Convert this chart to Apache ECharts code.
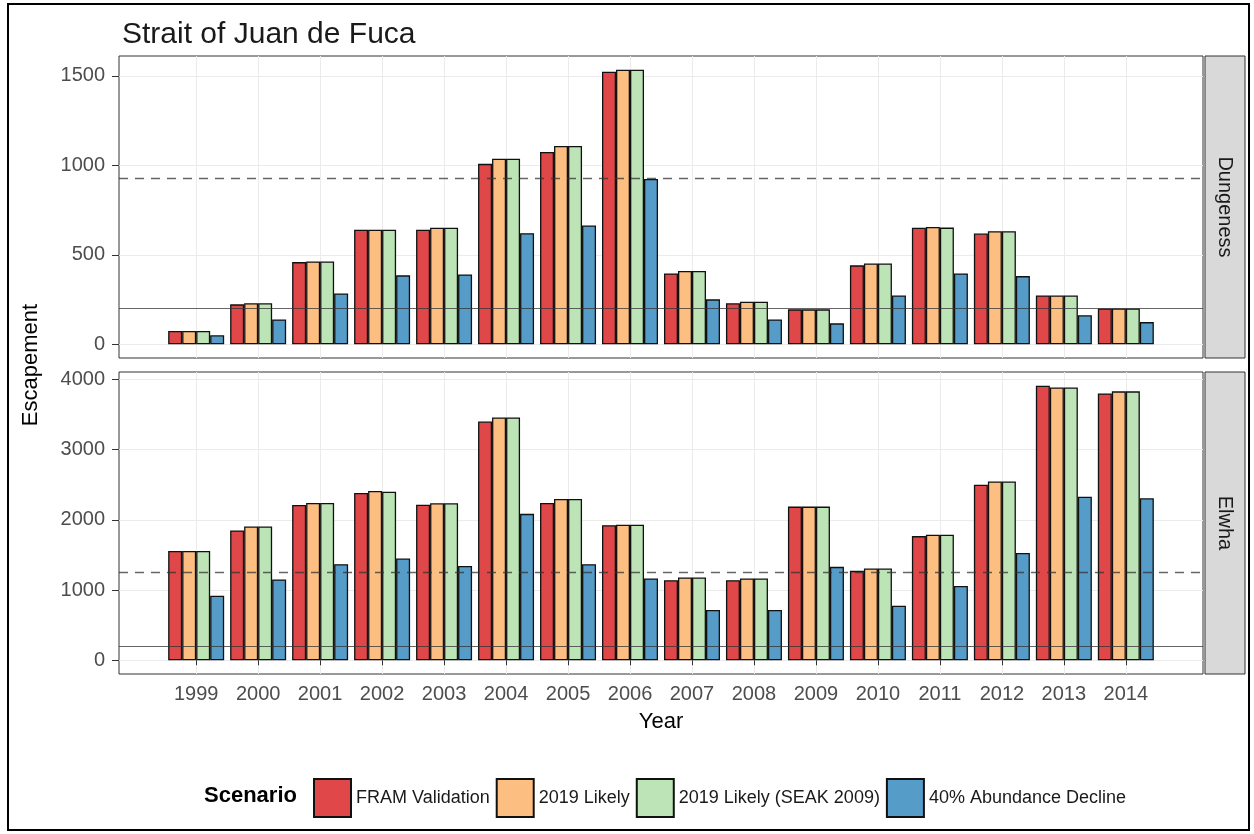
<!DOCTYPE html>
<html><head><meta charset="utf-8">
<script src="https://cdn.jsdelivr.net/npm/echarts@6/dist/echarts.min.js"></script>
<style>html,body{margin:0;padding:0;background:#fff}#c{width:1254px;height:834px}</style>
</head><body><div id="c"></div>
<script>
// ---- data ----
const years = [1999,2000,2001,2002,2003,2004,2005,2006,2007,2008,2009,2010,2011,2012,2013,2014];
const scenarios = ['FRAM Validation','2019 Likely','2019 Likely (SEAK 2009)','40% Abundance Decline'];
const panels = ['Dungeness','Elwha'];
const dungFram   = [74, 223, 459, 640, 640, 1008, 1075, 1523, 396, 229, 195, 441, 651, 619, 273, 200];
const dungLikely = [74, 229, 463, 640, 651, 1037, 1108, 1534, 409, 238, 195, 452, 655, 632, 273, 200];
const dungSeak   = [74, 229, 463, 640, 651, 1037, 1108, 1534, 409, 238, 195, 452, 652, 632, 273, 200];
const dungDecl   = [50, 139, 284, 385, 390, 621, 664, 924, 251, 139, 117, 273, 396, 381, 162, 124];
const elwhaFram   = [1556, 1849, 2212, 2381, 2216, 3400, 2240, 1924, 1141, 1141, 2188, 1273, 1768, 2499, 3909, 3800];
const elwhaLikely = [1556, 1905, 2240, 2410, 2235, 3457, 2297, 1929, 1179, 1165, 2188, 1306, 1788, 2546, 3885, 3829];
const elwhaSeak   = [1556, 1905, 2240, 2400, 2235, 3457, 2297, 1929, 1179, 1165, 2188, 1306, 1788, 2546, 3885, 3829];
const elwhaDecl   = [920, 1151, 1368, 1448, 1344, 2085, 1368, 1165, 717, 717, 1330, 778, 1057, 1528, 2330, 2306];
const refDashed = [930, 1250];   // per panel
const refSolid  = [200, 200];    // per panel
const yTicksDung  = [0, 500, 1000, 1500];
const yTicksElwha = [0, 1000, 2000, 3000, 4000];

// ---- styling ----
const FONT = 'Liberation Sans, Arial, sans-serif';
const colors = ['#df4749', '#fdbe81', '#bce4b6', '#559cc8'];
const panelData = [[dungFram, dungLikely, dungSeak, dungDecl], [elwhaFram, elwhaLikely, elwhaSeak, elwhaDecl]];
const yTicks = [yTicksDung, yTicksElwha];
const gridTops = [56, 372];
const gridH = 302, gridL = 119, gridW = 1084;

// ggplot-like expansion
const barHalf = 0.45, expand = 0.05;
const xLo = years[0] - barHalf, xHi = years[years.length - 1] + barHalf;
const xMin = xLo - (xHi - xLo) * expand, xMax = xHi + (xHi - xLo) * expand;
function yRange(arrs) {
  const m = Math.max(...arrs.flat());
  return [-m * expand, m * (1 + expand)];
}

const grids = [], xAxes = [], yAxes = [], series = [], graphics = [];
panels.forEach((p, pi) => {
  grids.push({left: gridL, top: gridTops[pi], width: gridW, height: gridH, show: true,
    borderColor: '#333', borderWidth: 1, backgroundColor: '#fff'});
  const bottom = pi === panels.length - 1;
  xAxes.push({type: 'value', gridIndex: pi, min: xMin, max: xMax,
    axisLine: {show: false},
    axisTick: {show: bottom, customValues: years, length: 5, lineStyle: {color: '#333', width: 1}},
    axisLabel: {show: bottom, customValues: years, formatter: v => String(v), fontSize: 20,
      color: '#4d4d4d', margin: 10, fontFamily: FONT},
    splitLine: {show: true, lineStyle: {color: '#ebebeb', width: 1}},
    name: bottom ? 'Year' : '', nameLocation: 'middle', nameGap: 37,
    nameTextStyle: {fontSize: 22, color: '#000', fontFamily: FONT}
  });
  const yr = yRange(panelData[pi]);
  yAxes.push({type: 'value', gridIndex: pi, min: yr[0], max: yr[1],
    axisLine: {show: false},
    axisTick: {show: true, customValues: yTicks[pi], length: 7, lineStyle: {color: '#333', width: 1}},
    axisLabel: {customValues: yTicks[pi], formatter: v => String(v), fontSize: 20, color: '#4d4d4d',
      margin: 14, fontFamily: FONT},
    splitLine: {show: true, lineStyle: {color: '#ebebeb', width: 1}}
  });
  scenarios.forEach((s, si) => {
    const ser = {type: 'bar', name: s, xAxisIndex: pi, yAxisIndex: pi,
      data: years.map((y, i) => [y, panelData[pi][si][i]]),
      barWidth: 14, barGap: '0%',
      itemStyle: {color: colors[si], borderColor: '#111', borderWidth: 1.3},
      emphasis: {disabled: true}, animation: false};
    if (si === 0) {
      ser.markLine = {silent: true, symbol: ['none', 'none'], label: {show: false}, animation: false,
        data: [
          {yAxis: refDashed[pi], lineStyle: {type: [9, 7], color: '#333', width: 1.3, opacity: 0.75}},
          {yAxis: refSolid[pi], lineStyle: {type: 'solid', color: '#333', width: 1.1, opacity: 0.75}}
        ]};
    }
    series.push(ser);
  });
  // facet strip
  graphics.push({type: 'rect', shape: {x: gridL + gridW + 2, y: gridTops[pi], width: 40, height: gridH},
    style: {fill: '#d9d9d9', stroke: '#333', lineWidth: 1}, z: 10});
  graphics.push({type: 'text', x: gridL + gridW + 22, y: gridTops[pi] + gridH / 2, rotation: -Math.PI / 2,
    style: {text: p, fontSize: 20, fill: '#1a1a1a', align: 'center', verticalAlign: 'middle',
      fontFamily: FONT}, z: 11});
});
// y-axis title spanning both facets
graphics.push({type: 'text', x: 31, y: (gridTops[0] + gridTops[1] + gridH) / 2, rotation: Math.PI / 2,
  style: {text: 'Escapement', fontSize: 22, fill: '#000', align: 'center', verticalAlign: 'middle',
    fontFamily: FONT}});
// outer frame
graphics.push({type: 'rect', shape: {x: 8, y: 4, width: 1241, height: 826},
  style: {fill: 'none', stroke: '#000', lineWidth: 2}, z: 20});

const chart = echarts.init(document.getElementById('c'), null, {renderer: 'canvas'});
chart.setOption({
  animation: false,
  backgroundColor: '#fff',
  title: [
    {text: 'Strait of Juan de Fuca', left: 117, top: 15,
      textStyle: {fontSize: 30, fontWeight: 'normal', color: '#1a1a1a', fontFamily: FONT}},
    {text: 'Scenario', left: 199, top: 780,
      textStyle: {fontSize: 22, fontWeight: 'bold', color: '#000', fontFamily: FONT}}
  ],
  legend: {data: scenarios, left: 308, top: 773, itemWidth: 37, itemHeight: 38, itemGap: 6,
    icon: 'rect', selectedMode: false,
    textStyle: {fontSize: 18, color: '#1a1a1a', fontFamily: FONT}},
  grid: grids, xAxis: xAxes, yAxis: yAxes, series: series, graphic: graphics
});
</script></body></html>
